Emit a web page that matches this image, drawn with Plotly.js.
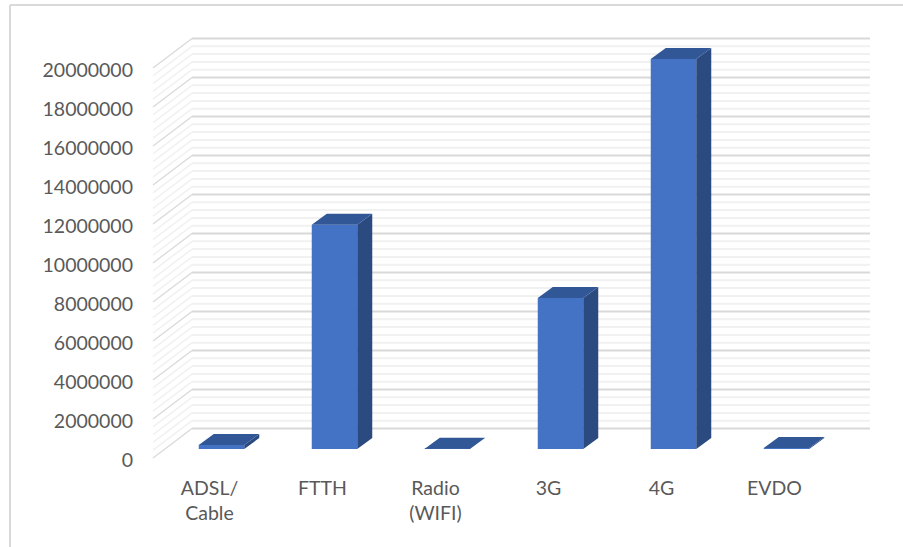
<!DOCTYPE html>
<html>
<head>
<meta charset="utf-8">
<script src="https://cdn.plot.ly/plotly-3.0.1.min.js"></script>
<style>html,body{margin:0;padding:0;background:#fff}#chart{width:903px;height:547px}</style>
</head>
<body>
<div id="chart"></div>
<script>
const categories = ["ADSL/<br>Cable", "FTTH", "Radio<br>(WIFI)", "3G", "4G", "EVDO"];
const values = [200000, 11500000, 10000, 7750000, 20000000, 50000];
const yTicks = [0, 2000000, 4000000, 6000000, 8000000, 10000000, 12000000, 14000000, 16000000, 18000000, 20000000];

// pixel scale of the pseudo-3D projection
const W = 903, H = 547;
const pxX = 113, pxY = 19.5e-6;
const L = 149, R = 25, T = 30, B = 85;
const xr = [-0.5 - 4 / pxX, 5.5 + 47 / pxX];
const yr = [-4 / pxY, 428 / pxY];
const X = p => p / pxX, Y = p => p / pxY;
const wallDx = X(39), wallDy = Y(29.5);
const barDx = X(15), barDy = Y(11);
const shiftX = X(12), shiftY = Y(9);
const barW = X(45.5);
const xIdx = categories.map((_, i) => i);
const xEnd = 5.5;

const shapes = [];
for (let v = 0; v <= 20000000; v += 400000) {
  const major = v % 2000000 === 0;
  const color = major ? "#d9d9d9" : "#f1f1f1";
  shapes.push({
    type: "line", layer: "below", xref: "x", yref: "y",
    x0: -0.5, y0: v, x1: -0.5 + wallDx, y1: v + wallDy,
    line: {color: color, width: major ? 1.25 : 1.5}
  });
  shapes.push({
    type: "line", layer: "below", xref: "x", yref: "y",
    x0: -0.5 + wallDx, y0: v + wallDy, x1: xEnd + wallDx, y1: v + wallDy,
    line: {color: color, width: 2}
  });
}
// chart frame, left and top edges only
const px = p => (p - L) / (W - L - R), py = p => 1 - (p - T) / (H - T - B);
shapes.push({type: "line", xref: "paper", yref: "paper", x0: px(10), y0: py(5), x1: px(903), y1: py(5), line: {color: "#d9d9d9", width: 2}});
shapes.push({type: "line", xref: "paper", yref: "paper", x0: px(10), y0: py(5), x1: px(10), y1: py(547), line: {color: "#d9d9d9", width: 2}});

const topX = [], topY = [], sideX = [], sideY = [];
values.forEach((v, i) => {
  const l = i + shiftX - barW / 2, r = i + shiftX + barW / 2;
  const t = v + shiftY, b = shiftY;
  topX.push(l, l + barDx, r + barDx, r, l, null);
  topY.push(t, t + barDy, t + barDy, t, t, null);
  sideX.push(r, r + barDx, r + barDx, r, r, null);
  sideY.push(b, b + barDy, t + barDy, t, b, null);
});

const traces = [
  {type: "bar", x: xIdx.map(i => i + shiftX), y: values, base: shiftY, width: barW,
   marker: {color: "#4472c4", line: {width: 0}}, hoverinfo: "y", showlegend: false},
  {type: "scatter", mode: "lines", x: sideX, y: sideY, fill: "toself", fillcolor: "#2a4a80",
   line: {width: 0, color: "#2a4a80"}, hoverinfo: "skip", showlegend: false},
  {type: "scatter", mode: "lines", x: topX, y: topY, fill: "toself", fillcolor: "#325797",
   line: {width: 0, color: "#325797"}, hoverinfo: "skip", showlegend: false}
];

const font = {family: "Lato, 'Open Sans', sans-serif", size: 19.5, color: "#595959"};
const layout = {
  width: W, height: H,
  margin: {l: L, r: R, t: T, b: B, pad: 0},
  paper_bgcolor: "#ffffff", plot_bgcolor: "#ffffff",
  showlegend: false,
  font: font,
  xaxis: {type: "linear", range: xr, tickmode: "array", tickvals: xIdx, ticktext: categories,
    showgrid: false, zeroline: false, showline: false, ticks: "", ticklabelstandoff: 12, tickangle: 0, tickfont: font},
  yaxis: {type: "linear", range: yr, tickmode: "array", tickvals: yTicks, ticktext: yTicks.map(String),
    showgrid: false, zeroline: false, showline: false, ticks: "", ticklabelstandoff: 15, ticklabelshift: 2, tickfont: font},
  shapes: shapes
};
Plotly.newPlot("chart", traces, layout, {displayModeBar: false, responsive: false});
</script>
</body>
</html>
